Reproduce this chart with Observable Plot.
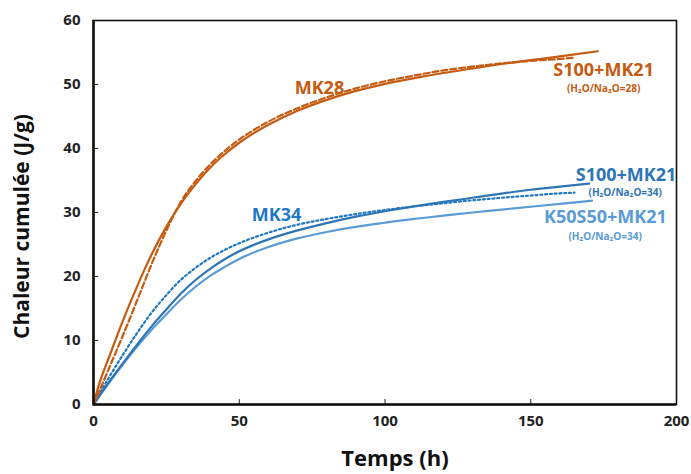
<!DOCTYPE html>
<html>
<head>
<meta charset="utf-8">
<script src="https://cdn.jsdelivr.net/npm/d3@7"></script>
<script src="https://cdn.jsdelivr.net/npm/@observablehq/plot@0.6"></script>
<style>
  html, body { margin: 0; padding: 0; background: #fff; }
  svg { font-family: "Open Sans", sans-serif; }
</style>
</head>
<body>
<div id="chart"></div>
<script>
// Time (h) and cumulative heat (J/g) for each series
const timeS28 = [0,2,5,10,15,20,25,30,35,40,45,50,55,60,70,80,90,100,110,120,130,140,150,160,173];
const heatS28 = [0,3.3,7.0,13.0,18.5,23.5,27.8,31.4,34.4,37.0,39.1,40.9,42.4,43.7,45.9,47.6,49.0,50.1,51.0,51.8,52.5,53.2,53.8,54.4,55.2];

const timeMK28 = [0,2,5,10,15,20,25,30,35,40,45,50,55,60,70,80,90,100,110,120,130,140,150,160,165];
const heatMK28 = [0,2.1,5.3,10.7,16.3,22.0,27.2,31.7,34.9,37.5,39.6,41.4,42.9,44.2,46.3,48.0,49.4,50.5,51.4,52.2,52.8,53.3,53.7,54.0,54.2];

const timeS34 = [0,5,10,15,20,25,30,35,40,45,50,60,70,80,90,100,110,120,130,140,150,160,170];
const heatS34 = [0,3.3,6.4,9.4,12.25,14.85,17.35,19.45,21.2,22.7,23.95,25.8,27.2,28.35,29.35,30.2,30.95,31.65,32.3,32.95,33.55,34.05,34.5];

const timeK34 = [0,5,10,15,20,25,30,35,40,45,50,60,70,80,90,100,110,120,130,140,150,160,171];
const heatK34 = [0,3.2,6.2,9.05,11.7,14.1,16.4,18.4,20.1,21.5,22.75,24.6,25.95,26.95,27.75,28.4,29.0,29.5,30.0,30.45,30.9,31.35,31.85];

const timeMK34 = [0,5,10,15,20,25,30,35,40,45,50,60,70,80,90,100,110,120,130,140,150,160,165];
const heatMK34 = [0,4.0,7.7,11.2,14.4,17.1,19.5,21.35,22.9,24.15,25.2,26.85,28.1,29.0,29.75,30.4,30.95,31.45,31.9,32.3,32.65,33.0,33.1];

const xTicks = [0,50,100,150,200];
const yTicks = [0,10,20,30,40,50,60];

const orange = "#c55a11", blueDark = "#2e75b6", blueLight = "#5b9bd5", blueDot = "#1f78c4";

const toRows = (t, v) => t.map((d, i) => ({t: d, v: v[i]}));
const s28 = toRows(timeS28, heatS28);
const mk28 = toRows(timeMK28, heatMK28);
const s34 = toRows(timeS34, heatS34);
const k34 = toRows(timeK34, heatK34);
const mk34 = toRows(timeMK34, heatMK34);

const labels = [
  {t: 77.5, v: 49.4, text: "MK28", color: orange, size: 18},
  {t: 175, v: 52.2, text: "S100+MK21", color: orange, size: 18},
  {t: 175, v: 49.4, text: "(H₂O/Na₂O=28)", color: orange, size: 10},
  {t: 62.8, v: 29.5, text: "MK34", color: blueDot, size: 18},
  {t: 182.7, v: 35.9, text: "S100+MK21", color: blueDark, size: 18},
  {t: 182.4, v: 33.1, text: "(H₂O/Na₂O=34)", color: blueDark, size: 10},
  {t: 175.6, v: 29.3, text: "K50S50+MK21", color: blueLight, size: 18},
  {t: 175.5, v: 26.25, text: "(H₂O/Na₂O=34)", color: blueLight, size: 10}
];

const chart = Plot.plot({
  width: 691,
  height: 474,
  marginLeft: 93,
  marginRight: 15,
  marginTop: 20,
  marginBottom: 70,
  style: {fontFamily: "'Open Sans', sans-serif", background: "#fff"},
  x: {domain: [0, 200]},
  y: {domain: [0, 60]},
  marks: [
    Plot.axisX({ticks: xTicks, tickSize: -5, tickPadding: 16, fontSize: 15, fontWeight: "bold", color: "#222", label: null}),
    Plot.axisY({ticks: yTicks, tickSize: -5, tickPadding: 18, fontSize: 15, fontWeight: "bold", color: "#222", label: null}),
    Plot.line(k34, {x: "t", y: "v", stroke: blueLight, strokeWidth: 2.2, curve: "monotone-x"}),
    Plot.line(mk34, {x: "t", y: "v", stroke: blueDot, strokeWidth: 2.2, strokeDasharray: "2,2.8", curve: "monotone-x"}),
    Plot.line(s34, {x: "t", y: "v", stroke: blueDark, strokeWidth: 2.2, curve: "monotone-x"}),
    Plot.line(mk28, {x: "t", y: "v", stroke: orange, strokeWidth: 2.2, strokeDasharray: "6,3", curve: "monotone-x"}),
    Plot.line(s28, {x: "t", y: "v", stroke: orange, strokeWidth: 2.2, curve: "monotone-x"}),
    Plot.frame({stroke: "#111", strokeWidth: 1.6}),
    Plot.ruleX([0], {stroke: "#111", strokeWidth: 2.6}),
    Plot.ruleY([0], {stroke: "#111", strokeWidth: 2.6}),
    Plot.text(labels, {x: "t", y: "v", text: "text", fill: d => d.color, fontSize: d => d.size, fontWeight: "bold", textAnchor: "middle", clip: false}),
    Plot.text(["Temps (h)"], {frameAnchor: "bottom", dx: 10, dy: 61, fontSize: 22, fontWeight: "bold", fill: "#111", textAnchor: "middle"}),
    Plot.text(["Chaleur cumulée (J/g)"], {frameAnchor: "left", dx: -71, dy: 14, rotate: -90, fontSize: 21, fontWeight: "bold", fill: "#111", textAnchor: "middle"})
  ]
});
document.getElementById("chart").appendChild(chart);
</script>
</body>
</html>
